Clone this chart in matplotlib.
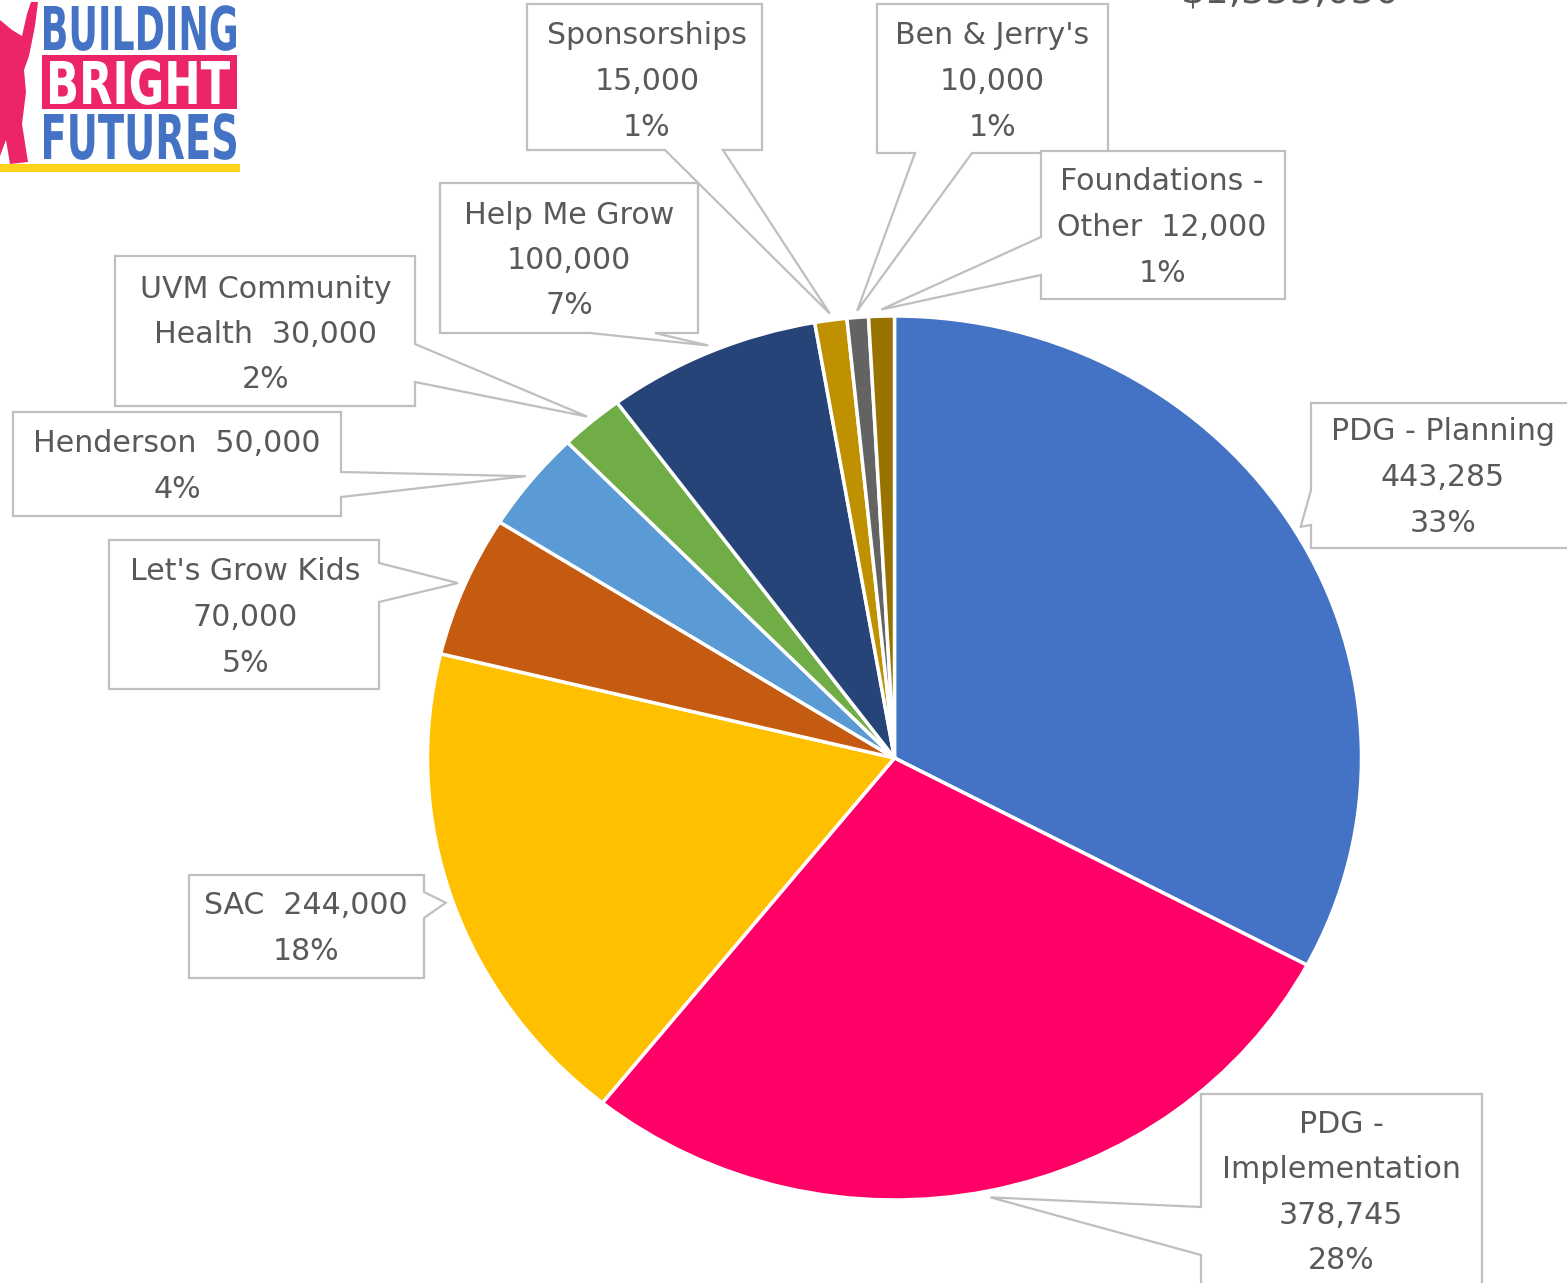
import matplotlib
matplotlib.use('Agg')
import matplotlib.pyplot as plt
import numpy as np
from matplotlib.patches import Polygon, Rectangle
from matplotlib.patheffects import AbstractPathEffect
from matplotlib.transforms import Affine2D
from matplotlib.textpath import TextPath
from matplotlib.font_manager import FontProperties

# Revenue sources (clockwise from 12 o'clock)
categories = ['PDG - Planning', 'PDG -\nImplementation', 'SAC', "Let's Grow Kids", 'Henderson',
              'UVM Community\nHealth', 'Help Me Grow', 'Sponsorships', "Ben & Jerry's", 'Foundations -\nOther']
values = [443285, 378745, 244000, 70000, 50000, 30000, 100000, 15000, 10000, 12000]
name_sep = ['\n', '\n', '  ', '\n', '  ', '  ', '\n', '\n', '\n', '  ']
colors = ['#4472C4', '#FF0066', '#FFC000', '#C55A11', '#5B9BD5',
          '#70AD47', '#264478', '#BF9000', '#636363', '#997300']

total = sum(values)

# Label layout in image pixels: text centre, box (l, t, r, b), side with the callout, callout base
label_center = [(1443, 475), (1341, 1190), (306, 926), (245, 615), (177, 464),
                (266, 332), (569, 258), (647, 79), (992, 79), (1162, 225)]
label_box = [(1311, 403, 1590, 548), (1201, 1094, 1482, 1300), (189, 875, 424, 978),
             (109, 540, 379, 689), (13, 412, 341, 516), (115, 256, 415, 406),
             (440, 183, 698, 333), (527, 4, 762, 150), (877, 4, 1108, 153), (1041, 151, 1285, 299)]
callout_side = ['left', 'left', 'right', 'right', 'right', 'right', 'bottom', 'bottom', 'bottom', 'left']
callout_base = [(490, 525), (1207, 1255), (892, 918), (563, 602), (472, 497),
                (344, 382), (590, 655), (665, 723), (915, 972), (237, 275)]

W, H = 1567, 1283
fig = plt.figure(figsize=(W / 100, H / 100), dpi=100)
fig.patch.set_facecolor('white')

# pie axes - the original is slightly stretched horizontally
cx, cy, rx, ry = 894.5, 758, 467, 442
ax = fig.add_axes([(cx - rx) / W, (H - cy - ry) / H, 2 * rx / W, 2 * ry / H])
wedges, _ = ax.pie(values, colors=colors, startangle=90, counterclock=False,
                   wedgeprops=dict(edgecolor='white', linewidth=2.5))
ax.set_aspect('auto')
ax.set_xlim(-1, 1)
ax.set_ylim(-1, 1)
ax.axis('off')

# overlay axes in image pixel coordinates for labels and logo
ov = fig.add_axes([0, 0, 1, 1])
ov.set_xlim(0, W)
ov.set_ylim(H, 0)
ov.axis('off')
ov.patch.set_alpha(0)

text_color = '#595959'
edge_gray = '#BFBFBF'
step = 45.5

for i, w in enumerate(wedges):
    # callout tip just outside the middle of the wedge
    th = np.deg2rad((w.theta1 + w.theta2) / 2)
    disp = ax.transData.transform((1.015 * np.cos(th), 1.015 * np.sin(th)))
    tx, ty = ov.transData.inverted().transform(disp)

    l, t, r, b = label_box[i]
    a1, a2 = callout_base[i]
    side = callout_side[i]
    pts = [(l, t), (r, t)]
    if side == 'right':
        pts += [(r, a1), (tx, ty), (r, a2)]
    pts += [(r, b)]
    if side == 'bottom':
        pts += [(a2, b), (tx, ty), (a1, b)]
    pts += [(l, b)]
    if side == 'left':
        pts += [(l, a2), (tx, ty), (l, a1)]
    ov.add_patch(Polygon(pts, closed=True, facecolor='white', edgecolor=edge_gray,
                         linewidth=1.6, zorder=2))

    lines = (categories[i] + name_sep[i] + f'{values[i]:,}' + '\n'
             + f'{round(100 * values[i] / total)}%').split('\n')
    x0, y0 = label_center[i]
    n = len(lines)
    for j, line in enumerate(lines):
        yb = y0 - (n - 1) / 2 * step + j * step + 11
        ov.text(x0, yb, line, ha='center', va='baseline', fontsize=21.6,
                color=text_color, family='DejaVu Sans', zorder=3)

# total, cut off at the top edge like the original
ov.text(1290, 3, f'${total:,}', ha='center', va='baseline', fontsize=27.5,
        color=text_color, family='DejaVu Sans', zorder=3, clip_on=False)


# logo - squeeze bold text horizontally so it fits the narrow logo block
class Squeeze(AbstractPathEffect):
    def __init__(self, sx, x0):
        super().__init__()
        self.sx = sx
        self.x0 = x0

    def draw_path(self, renderer, gc, tpath, affine, rgbFace=None):
        a = affine + Affine2D().translate(-self.x0, 0).scale(self.sx, 1).translate(self.x0, 0)
        renderer.draw_path(gc, tpath, a, rgbFace)


logo_fp = FontProperties(family='DejaVu Sans', weight='bold')


def logo_word(word, left, right, top, bottom, color):
    cap_px = bottom - top
    size_px = cap_px / 0.729
    tp = TextPath((0, 0), word, size=size_px, prop=logo_fp)
    ext = tp.get_extents()
    sx = (right - left) / ext.width
    ov.text(left - ext.x0 * sx, bottom, word, ha='left', va='baseline',
            fontsize=size_px * 72 / 100, fontproperties=logo_fp, color=color,
            path_effects=[Squeeze(sx, left - ext.x0 * sx)], zorder=5)


logo_blue = '#4472C4'
logo_pink = '#EC2468'
ov.add_patch(Rectangle((42, 55), 195, 54, facecolor=logo_pink, edgecolor='none', zorder=4))
ov.add_patch(Rectangle((0, 164), 240, 8, facecolor='#FFD21F', edgecolor='none', zorder=4))
# silhouette of the figure holding up a star (only its right half is in view)
ov.add_patch(Polygon([(0, 20), (12, 30), (22, 36), (27, 14), (31, 2), (38, 2), (35, 26),
                      (29, 56), (24, 70), (26, 92), (22, 124), (28, 162), (10, 164),
                      (6, 140), (0, 156)], closed=True, facecolor=logo_pink,
                     edgecolor='none', zorder=4))
logo_word('BUILDING', 44, 236, 6, 50, logo_blue)
logo_word('BRIGHT', 50, 230, 61, 104, 'white')
logo_word('FUTURES', 44, 236, 114, 159, logo_blue)

fig.savefig('out.png', dpi=100, facecolor='white')
